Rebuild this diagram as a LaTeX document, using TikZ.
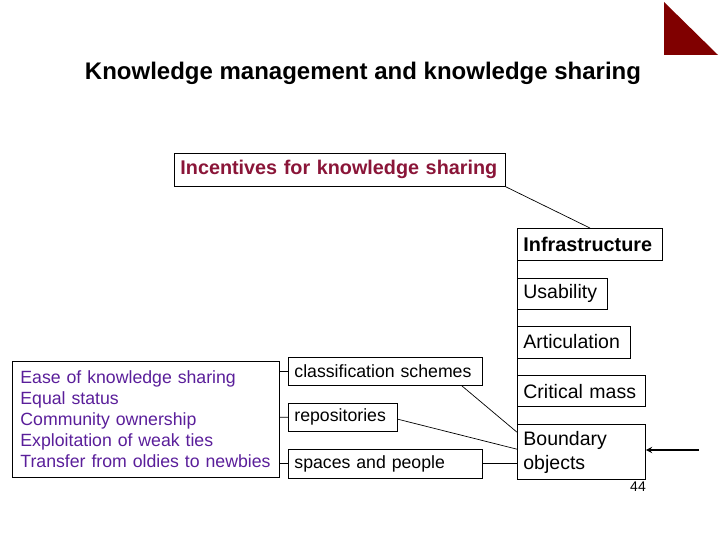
\documentclass[tikz,border=0pt]{standalone}
\usepackage{fontspec}
\setmainfont{Liberation Sans}
\usepackage{xcolor}
\usetikzlibrary{arrows,shapes,positioning}

\definecolor{incred}{HTML}{8A1538}
\definecolor{easepurple}{HTML}{5A1E9A}
\definecolor{cornerred}{HTML}{800000}

\begin{document}
\begin{tikzpicture}[x=1pt,y=-1pt]
    \tikzstyle{box}=[draw = black, line width = 0.8pt, anchor = north west, inner xsep = 6pt, inner ysep = 2pt, align = left, font = \fontsize{19.5}{24}\selectfont]
    \tikzstyle{subbox}=[box, font = \fontsize{17.7}{21}\selectfont]
    \tikzstyle{link}=[line width = 0.7pt]
    \tikzstyle{pointer}=[-stealth, line width = 1.8pt]
    \useasboundingbox (0,0) rectangle (720,540);
    \fill[cornerred] (664,2) -- (664,55) -- (718,55) -- cycle;
    \node (title) at (363,73) {\fontsize{24}{28}\selectfont\bfseries Knowledge management and knowledge sharing};
    \node[box, text width = 319pt, minimum height = 33pt, text = incred, font = \fontsize{19.8}{24}\selectfont\bfseries] (incent) at (174,153) {Incentives for knowledge sharing};
    \node[box, text width = 133pt, minimum height = 32pt, font = \fontsize{19.8}{24}\selectfont\bfseries] (infra) at (517,228) {Infrastructure};
    \node[box, text width = 78pt, minimum height = 31pt] (usab) [below=17pt of infra.south west, anchor = north west] {Usability};
    \node[box, text width = 101pt, minimum height = 32pt] (artic) [below=16pt of usab.south west, anchor = north west] {Articulation};
    \node[box, text width = 116pt, minimum height = 31pt] (crit) [below=17pt of artic.south west, anchor = north west] {Critical mass};
    \node[box, text width = 116pt, minimum height = 55pt] (bound) [below=17pt of crit.south west, anchor = north west] {Boundary\\objects};
    \node[subbox, text width = 251pt, minimum height = 116pt, inner xsep = 8pt, text = easepurple] (ease) at (12,361) {Ease of knowledge sharing\\Equal status\\Community ownership\\Exploitation of weak ties\\Transfer from oldies to newbies};
    \node[subbox, text width = 182pt, minimum height = 28pt] (classif) at (288,357) {classification schemes};
    \node[subbox, text width = 97pt, minimum height = 28pt] (repos) [below=17pt of classif.south west, anchor = north west] {repositories};
    \node[subbox, text width = 182pt, minimum height = 29pt] (spaces) [below=17pt of repos.south west, anchor = north west] {spaces and people};
    \node (page) at (638,487) {\fontsize{14}{16}\selectfont 44};
    \coordinate (hand) at (699,450);
    \draw[link] (incent.south east) -- (infra.north)
    (classif.west -| ease.east) -- (classif.west)
    (repos.west -| ease.east) -- (repos.west)
    (spaces.west -| ease.east) -- (spaces.west)
    ([xshift=-21pt]classif.south east) -- ([yshift=-8pt]bound.north west)
    ([yshift=-2pt]repos.east) -- ([yshift=-25pt]bound.north west)
    (spaces.east) -- (spaces.east -| bound.west);
    \draw[line width = 0.8pt] (infra.south west) -- (bound.north west);
    \draw[pointer] (hand) -- (hand -| bound.east);
\end{tikzpicture}
\end{document}
